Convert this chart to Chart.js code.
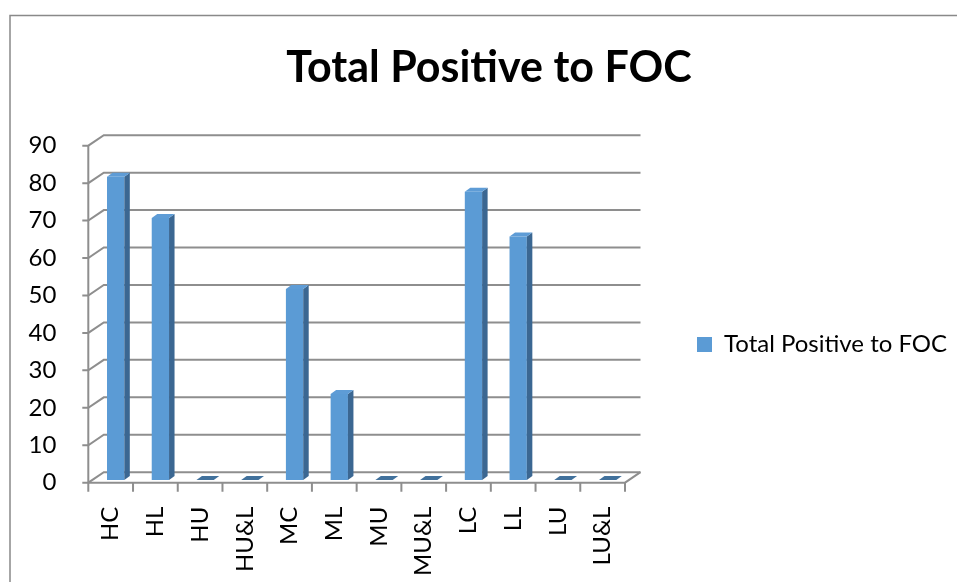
<!DOCTYPE html>
<html>
<head>
<meta charset="utf-8">
<script src="https://cdn.jsdelivr.net/npm/chart.js@4.4.0/dist/chart.umd.min.js"></script>
<style>
  html, body { margin: 0; padding: 0; background: #fff; }
</style>
</head>
<body>
<canvas id="myChart" width="957" height="582"></canvas>
<script>
var categories = ["HC", "HL", "HU", "HU&L", "MC", "ML", "MU", "MU&L", "LC", "LL", "LU", "LU&L"];
var totalPositive = [81, 70, 0, 0, 51, 23, 0, 0, 77, 65, 0, 0];
var yTicks = [0, 10, 20, 30, 40, 50, 60, 70, 80, 90];
var seriesName = "Total Positive to FOC";

var FONT = "Lato";
var faceColor = "#5b9bd5";
var sideColor = "#3b6792";
var topColor = "#5e9cd6";
var flatColor = "#41719c";
var gridColor = "#8e8e8e";

// 3d look: back wall offset, bar offset and bar depth (pixels)
var wallDx = 15.5, wallDy = -10.5;
var barDx = 5, barDy = -2.7;
var depthX = 5.5, depthY = -4;

// walls, gridlines and floor, then shift the bars back a little
var walls3d = {
  id: 'walls3d',
  beforeDraw: function (chart) {
    var ctx = chart.ctx;
    ctx.save();
    ctx.fillStyle = '#fff';
    ctx.fillRect(0, 0, chart.width, chart.height);
    ctx.strokeStyle = '#898989';
    ctx.lineWidth = 1.5;
    ctx.strokeRect(10, 15.5, 1000, 1000);
    ctx.restore();
  },
  beforeDatasetsDraw: function (chart) {
    var ctx = chart.ctx;
    var ys = chart.scales.y;
    var x0 = chart.chartArea.left, x1 = chart.chartArea.right;
    var y0 = ys.getPixelForValue(0);
    ctx.save();
    ctx.strokeStyle = gridColor;
    ctx.lineWidth = 2;
    yTicks.forEach(function (v) {
      var y = ys.getPixelForValue(v);
      ctx.beginPath();
      ctx.moveTo(x0 - 6, y);
      ctx.lineTo(x0, y);
      ctx.lineTo(x0 + wallDx, y + wallDy);
      ctx.lineTo(x1 + wallDx, y + wallDy);
      ctx.stroke();
    });
    // front value axis
    ctx.beginPath();
    ctx.moveTo(x0, ys.getPixelForValue(yTicks[yTicks.length - 1]));
    ctx.lineTo(x0, y0);
    ctx.stroke();
    // floor edges
    ctx.beginPath();
    ctx.moveTo(x0, y0);
    ctx.lineTo(x1, y0);
    ctx.lineTo(x1 + wallDx, y0 + wallDy);
    ctx.stroke();
    // category tick marks
    var n = categories.length, cw = (x1 - x0) / n;
    ctx.beginPath();
    for (var i = 0; i <= n; i++) {
      ctx.moveTo(x0 + i * cw, y0);
      ctx.lineTo(x0 + i * cw, y0 + 9);
    }
    ctx.stroke();
    ctx.restore();

    ctx.save();
    ctx.translate(barDx, barDy);
  },
  afterDatasetsDraw: function (chart) {
    var ctx = chart.ctx;
    chart.getDatasetMeta(0).data.forEach(function (bar) {
      var p = bar.getProps(['x', 'y', 'base', 'width'], true);
      var xl = p.x - p.width / 2, xr = p.x + p.width / 2;
      var yt = p.y, yb = p.base;
      if (yb - yt > 0.5) {
        ctx.fillStyle = sideColor;
        ctx.beginPath();
        ctx.moveTo(xr, yt);
        ctx.lineTo(xr + depthX, yt + depthY);
        ctx.lineTo(xr + depthX, yb + depthY);
        ctx.lineTo(xr, yb);
        ctx.closePath();
        ctx.fill();
      }
      ctx.fillStyle = (yb - yt > 0.5) ? topColor : flatColor;
      ctx.beginPath();
      ctx.moveTo(xl, yt);
      ctx.lineTo(xl + depthX, yt + depthY);
      ctx.lineTo(xr + depthX, yt + depthY);
      ctx.lineTo(xr, yt);
      ctx.closePath();
      ctx.fill();
    });
    ctx.restore();
  },
  beforeLayout: function (chart) {
    var lg = chart.legend;
    if (lg && !lg._fixedWidth) {
      var fit = lg.fit;
      lg.fit = function () {
        fit.call(this);
        this.width = 332;
      };
      lg._fixedWidth = true;
    }
  },
  afterLayout: function (chart) {
    var lg = chart.legend;
    var h = lg.bottom - lg.top;
    lg.top = 344.5 - h / 2;
    lg.bottom = lg.top + h;
  }
};

var ctx1 = document.getElementById("myChart");
var myBarChart = new Chart(ctx1, {
  type: 'bar',
  data: {
    labels: categories,
    datasets: [{
      label: seriesName,
      data: totalPositive,
      backgroundColor: faceColor,
      borderWidth: 0,
      barPercentage: 0.387,
      categoryPercentage: 1,
      clip: false
    }]
  },
  options: {
    responsive: false,
    animation: false,
    devicePixelRatio: 1,
    layout: { padding: { left: 21, right: 0, top: 0, bottom: 0 } },
    plugins: {
      title: {
        display: true,
        text: 'Total Positive to FOC',
        color: '#000',
        font: { family: FONT, size: 43, weight: 'bold' },
        padding: { top: 42, bottom: 52.1 }
      },
      legend: {
        position: 'right',
        fullSize: false,
        labels: {
          boxWidth: 15,
          boxHeight: 15,
          padding: 72,
          color: '#000',
          font: { family: FONT, size: 24 }
        }
      },
      tooltip: { enabled: false }
    },
    scales: {
      x: {
        grid: { display: false },
        border: { display: false },
        ticks: {
          autoSkip: false,
          minRotation: 90,
          maxRotation: 90,
          padding: 16,
          color: '#000',
          font: { family: FONT, size: 24 }
        },
        afterFit: function (s) { s.height = 99.3; }
      },
      y: {
        min: 0,
        max: 90,
        grid: { display: false },
        border: { display: false },
        ticks: {
          stepSize: 10,
          padding: 24,
          color: '#000',
          font: { family: FONT, size: 24 }
        },
        afterFit: function (s) { s.width = 67.3; }
      }
    }
  },
  plugins: [walls3d]
});
</script>
</body>
</html>
